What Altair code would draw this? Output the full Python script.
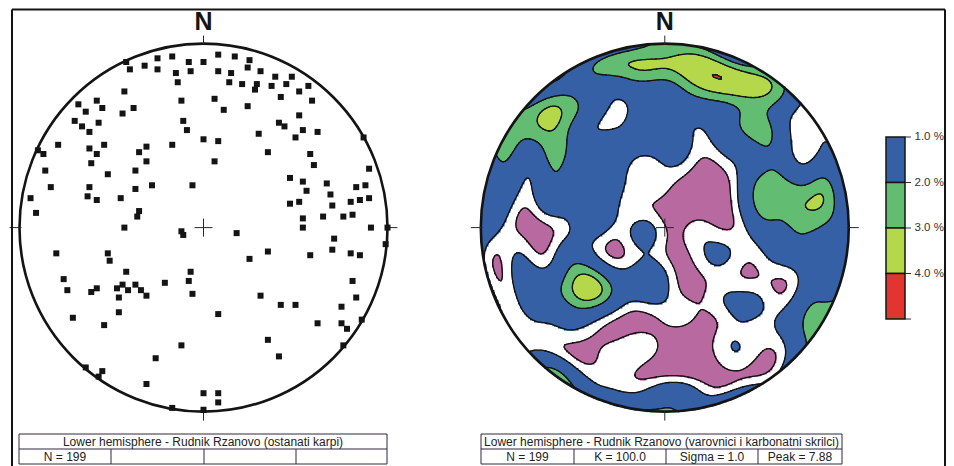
import numpy as np
import pandas as pd
import altair as alt

# ---------------- data ----------------
# poles on the left net (equal-area, lower hemisphere); east / north in percent of net radius
east = [
    -42, -40, -32, -25, -25, -17, -8, 0, -15, -7,
    -14, -43, -12, -68, -64, -58, -55, -38, -44, -70,
    -66, -62, -57, -11, -9, 0, -79, -90, -87, -62,
    -54, -58, -31, -35, -31, -17, -61, -86, -52, -37,
    -83, -62, -28, -6, -37, -94, -63, -58, -45, -91,
    -35, -36, -43, -12, -11,
    8, 17, 25, 8, 15, 24, 31, 14, 21, 29,
    28, 37, 39, 48, 45, 57, 52, 42, 59, 6,
    11, 24, 52, 41, 44, 54, 50, 62, 30, 87,
    8, 35, 58, 6, 60, 90, 47, 54, 67, 56,
    83, 88, 69, 47, 52, 70, 80, 85, 90, 54,
    65, 76, 81, 54, 91, 100,
    -80, -52, -51, -42, -7, -76, -74, -61, -58, -47,
    -44, -41, -37, -34, -31, -46, -21, -8, -6, -46,
    -71, -54, -12, -26, -64, -55, -57, -31, 0, -17,
    0,
    18, 71, 70, 80, 85, 99, 35, 25, 58, 81,
    83, 75, 31, 42, 50, 8, 62, 75, 78, 86,
    76, 35, 41, 8, 8,
]
north = [
    90, 86, 88, 92, 86, 93, 90, 90, 84, 85,
    79, 74, 69, 67, 63, 69, 65, 65, 62, 58,
    55, 52, 57, 58, 53, 48, 45, 42, 40, 43,
    45, 40, 44, 41, 36, 45, 35, 31, 29, 31,
    22, 22, 23, 23, 21, 16, 17, 15, 16, 8,
    9, 6, 0, -2, -4,
    94, 93, 91, 85, 84, 87, 85, 79, 78, 78,
    75, 77, 82, 82, 78, 77, 74, 71, 69, 70,
    64, 66, 61, 57, 55, 53, 49, 52, 51, 49,
    47, 41, 40, 36, 34, 32, 27, 25, 24, 20,
    22, 23, 18, 13, 14, 12, 14, 15, 16, 5,
    6, 6, 7, 0, 0, 0,
    -14, -14, -18, -24, -24, -28, -34, -35, -33, -33,
    -31, -34, -31, -34, -37, -38, -30, -29, -36, -46,
    -49, -53, -64, -71, -76, -78, -81, -85, -90, -98,
    -99,
    -3, -6, -12, -14, -15, -9, -13, -17, -15, -29,
    -38, -43, -37, -42, -42, -47, -52, -52, -55, -50,
    -64, -61, -70, -90, -95,
]

TITLE_LEFT = "Lower hemisphere - Rudnik Rzanovo (ostanati karpi)"
TITLE_RIGHT = "Lower hemisphere - Rudnik Rzanovo (varovnici i karbonatni skrilci)"
STATS_LEFT = ["N = 199", "", "", ""]
STATS_RIGHT = ["N = 199", "K = 100.0", "Sigma = 1.0", "Peak = 7.88"]
LEGEND_LABELS = ["1.0 %", "2.0 %", "3.0 %", "4.0 %"]
LEVEL_KEYS = ["min", "lt1", "c1", "c2", "c3", "c4"]
LEVEL_COLORS = ["#B86AA0", "#FFFFFF", "#3560A5", "#62BC72", "#B4D84A", "#E2352F"]
AREA_QUANTILES = [0.13, 0.40, 0.84, 0.96, 0.9997]
KAPPA = 75.0

# ---------------- layout constants ----------------
R = 184.0
LCX, RCX, CY = 203.5, 664.8, 227.6
INK = "#141414"
FONT = "Liberation Sans"
PX0, PX1, PY0, PY1 = 8, 946, 8, 466  # page area covered by the chart

XS = alt.Scale(domain=[PX0, PX1], nice=False, zero=False)
YS = alt.Scale(domain=[PY0, PY1], nice=False, zero=False, reverse=True)


def X(f="x"):
    return alt.X(f"{f}:Q", scale=XS, axis=None)


def Y(f="y"):
    return alt.Y(f"{f}:Q", scale=YS, axis=None)


# ---------------- density (spherical kernel on the poles) ----------------
def to_vec(e, n):
    r0 = np.hypot(e, n)
    r = np.minimum(r0, 1.0)
    th = 2 * np.arcsin(r / np.sqrt(2))
    safe = np.where(r0 > 0, r0, 1.0)
    return np.stack([np.sin(th) * e / safe, np.sin(th) * n / safe, -np.cos(th)], axis=-1)


E = np.array(east, float) / 100.0
Nn = np.array(north, float) / 100.0
P = to_vec(E, Nn)

xn = np.arange(np.floor((RCX - R - 4) / 2) * 2, RCX + R + 4, 2) + 1.0
yn = np.arange(np.floor((CY - R - 4) / 2) * 2, CY + R + 4, 2) + 1.0
XX, YY = np.meshgrid(xn, yn)
U = (XX - RCX) / R
V = (CY - YY) / R
G = to_vec(U, V).reshape(-1, 3)
dens = np.exp(KAPPA * (np.abs(G @ P.T) - 1.0)).sum(axis=1).reshape(XX.shape)
inside = np.hypot(U, V) <= 1.0
Dn = dens / dens[inside].mean()
thr = np.quantile(Dn[inside], AREA_QUANTILES)
lev = np.digitize(Dn, thr)

# filled bands as row runs (slightly overlapping to avoid seams)
fill_rows = []
for j, yc in enumerate(yn):
    v = (CY - yc) / R
    if abs(v) >= 1:
        continue
    half = np.sqrt(1 - v * v) * R
    xl, xr = RCX - half, RCX + half
    sel = np.nonzero((xn + 1 > xl) & (xn - 1 < xr))[0]
    if len(sel) == 0:
        continue
    start = max(xn[sel[0]] - 1, xl)
    cur = lev[j, sel[0]]
    for i in sel[1:]:
        if lev[j, i] != cur:
            fill_rows.append((start, xn[i] - 0.5, yc - 1, yc + 1.6, cur))
            start = xn[i] - 1
            cur = lev[j, i]
    fill_rows.append((start, min(xn[sel[-1]] + 1, xr), yc - 1, yc + 1.6, cur))
fill_df = pd.DataFrame(fill_rows, columns=["x", "x2", "y", "y2", "k"])
fill_df = fill_df[fill_df.k != 1]
fill_df["lvl"] = [LEVEL_KEYS[k] for k in fill_df.k]


# contour lines (marching squares)
def contour_segments(D, t):
    a = D[:-1, :-1]; b = D[:-1, 1:]; c = D[1:, 1:]; d = D[1:, :-1]
    idx = (a > t) * 8 + (b > t) * 4 + (c > t) * 2 + (d > t) * 1
    segs = []
    js, iis = np.nonzero((idx > 0) & (idx < 15))
    for j, i in zip(js, iis):
        x0, x1 = xn[i], xn[i + 1]
        y0, y1 = yn[j], yn[j + 1]
        A, B, C, Dd = a[j, i], b[j, i], c[j, i], d[j, i]
        pts = {
            "T": lambda: (x0 + (t - A) / (B - A) * (x1 - x0), y0),
            "R": lambda: (x1, y0 + (t - B) / (C - B) * (y1 - y0)),
            "B": lambda: (x0 + (t - Dd) / (C - Dd) * (x1 - x0), y1),
            "L": lambda: (x0, y0 + (t - A) / (Dd - A) * (y1 - y0)),
        }
        k = idx[j, i]
        center = (A + B + C + Dd) / 4 > t
        table = {1: ["LB"], 2: ["BR"], 3: ["LR"], 4: ["TR"], 6: ["TB"], 7: ["TL"],
                 8: ["TL"], 9: ["TB"], 11: ["TR"], 12: ["LR"], 13: ["BR"], 14: ["LB"]}
        if k == 5:
            pairs = ["TL", "BR"] if center else ["TR", "LB"]
        elif k == 10:
            pairs = ["TR", "LB"] if center else ["TL", "BR"]
        else:
            pairs = table[k]
        for p in pairs:
            xa, ya = pts[p[0]]()
            xb, yb = pts[p[1]]()
            mx, my = (xa + xb) / 2, (ya + yb) / 2
            if np.hypot((mx - RCX) / R, (my - CY) / R) <= 1.0:
                segs.append((xa, ya, xb, yb))
    return segs


seg_rows = []
for t in thr:
    seg_rows += contour_segments(Dn, t)
seg_df = pd.DataFrame(seg_rows, columns=["x", "y", "x2", "y2"])

# ---------------- geometry frames ----------------
pts_df = pd.DataFrame({"x": LCX + R * E, "y": CY - R * Nn})
nets_df = pd.DataFrame({"x": [LCX, RCX], "y": [CY, CY], "label": ["N", "N"]})

rules = []
for cx in (LCX, RCX):
    rules += [(cx - 9, CY, cx + 9, CY), (cx, CY - 9, cx, CY + 9),
              (cx, CY - R - 8, cx, CY - R + 1), (cx, CY + R - 1, cx, CY + R + 9),
              (cx - R - 10, CY, cx - R + 2, CY), (cx + R - 2, CY, cx + R + 10, CY)]
rules_df = pd.DataFrame(rules, columns=["x", "y", "x2", "y2"])

FR_R = PX1 - 1
frame_df = pd.DataFrame([(12, 9.5, FR_R, 9.5), (12, 9.5, 12, 470), (FR_R, 9.5, FR_R, 470)],
                        columns=["x", "y", "x2", "y2"])

# tables
tables = [(19, 387, [111, 204, 296], TITLE_LEFT, STATS_LEFT),
          (481, 842, [574, 666, 758], TITLE_RIGHT, STATS_RIGHT)]
T0, T1, T2 = 434, 449, 464
tab_lines, tab_text = [], []
for xl, xr, seps, title, stats in tables:
    for yy in (T0, T1, T2):
        tab_lines.append((xl, yy, xr, yy))
    tab_lines += [(xl, T0, xl, T2), (xr, T0, xr, T2)]
    for s in seps:
        tab_lines.append((s, T1, s, T2))
    tab_text.append(((xl + xr) / 2, (T0 + T1) / 2 + 0.5, title))
    edges = [xl] + seps + [xr]
    for i, s in enumerate(stats):
        if s:
            tab_text.append(((edges[i] + edges[i + 1]) / 2, (T1 + T2) / 2 + 0.5, s))
tab_lines_df = pd.DataFrame(tab_lines, columns=["x", "y", "x2", "y2"])
tab_text_df = pd.DataFrame(tab_text, columns=["x", "y", "text"])

# legend
LG_X0, LG_X1, LG_Y0, LG_STEP = 886, 905, 137, 45.5
leg_df = pd.DataFrame({
    "x": LG_X0, "x2": LG_X1,
    "y": [LG_Y0 + i * LG_STEP for i in range(4)],
    "y2": [LG_Y0 + (i + 1) * LG_STEP for i in range(4)],
    "lvl": LEVEL_KEYS[2:],
})
leg_ticks_df = pd.DataFrame({"x": LG_X1, "x2": LG_X1 + 6,
                             "y": [LG_Y0 + i * LG_STEP for i in range(5)]})
leg_text_df = pd.DataFrame({"x": LG_X1 + 9.5, "y": [LG_Y0 + i * LG_STEP for i in range(4)],
                            "text": LEGEND_LABELS})

color = alt.Color("lvl:N", scale=alt.Scale(domain=LEVEL_KEYS, range=LEVEL_COLORS), legend=None)


def seg_layer(df, **kw):
    return alt.Chart(df).mark_rule(**kw).encode(x=X("x"), y=Y("y"), x2=alt.X2("x2"), y2=alt.Y2("y2"))


layers = [
    alt.Chart(fill_df).mark_rect(strokeWidth=0).encode(
        x=X("x"), x2=alt.X2("x2"), y=Y("y"), y2=alt.Y2("y2"), color=color),
    seg_layer(seg_df, color=INK, strokeWidth=1.3, strokeCap="round"),
    alt.Chart(nets_df).mark_point(shape="circle", filled=False, size=(2 * R) ** 2,
                                  strokeWidth=2.6, color=INK, opacity=1).encode(x=X("x"), y=Y("y")),
    seg_layer(rules_df, color="#2a2438", strokeWidth=1),
    alt.Chart(pts_df).mark_square(size=36, color=INK, opacity=1).encode(x=X("x"), y=Y("y")),
    alt.Chart(nets_df).mark_text(font=FONT, fontSize=25, fontWeight="bold", color=INK,
                                 baseline="alphabetic", align="center", dy=-(CY - 30)).encode(
        x=X("x"), y=Y("y"), text="label:N"),
    seg_layer(tab_lines_df, color="#2e2840", strokeWidth=1),
    alt.Chart(tab_text_df).mark_text(font=FONT, fontSize=12, color="#222222",
                                     baseline="middle", align="center").encode(
        x=X("x"), y=Y("y"), text="text:N"),
    alt.Chart(leg_df).mark_rect(stroke=INK, strokeWidth=1.5).encode(
        x=X("x"), x2=alt.X2("x2"), y=Y("y"), y2=alt.Y2("y2"), color=color),
    alt.Chart(leg_ticks_df).mark_rule(color="#2e2840", strokeWidth=1).encode(
        x=X("x"), x2=alt.X2("x2"), y=Y("y")),
    alt.Chart(leg_text_df).mark_text(font=FONT, fontSize=11.5, color="#333333",
                                     baseline="middle", align="left").encode(
        x=X("x"), y=Y("y"), text="text:N"),
    seg_layer(frame_df, color=INK, strokeWidth=2),
]

chart = alt.layer(*layers).properties(
    width=PX1 - PX0, height=PY1 - PY0, padding=0, autosize=alt.AutoSizeParams(type="none"),
    background="white",
).configure_view(stroke=None)

chart.save("out.html", embed_options={"renderer": "svg", "actions": False})
